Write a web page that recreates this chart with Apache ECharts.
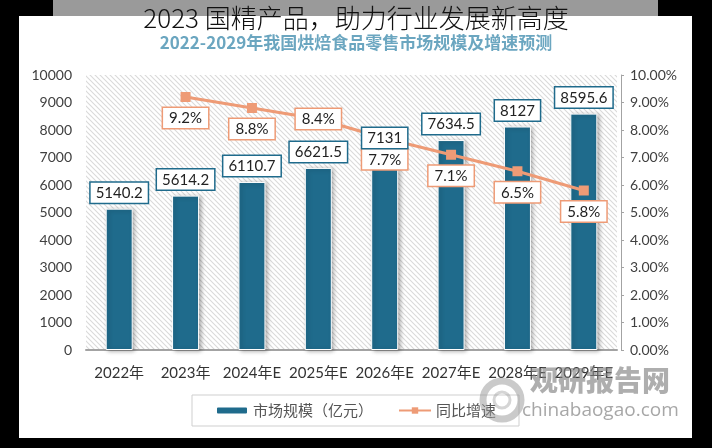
<!DOCTYPE html>
<html><head><meta charset="utf-8">
<script src="https://cdn.jsdelivr.net/npm/echarts@6/dist/echarts.min.js"></script>
<style>html,body{margin:0;padding:0;background:#000;}#c{width:712px;height:448px;}</style>
</head><body><div id="c"></div>
<script>
const categories = ['2022年','2023年','2024年E','2025年E','2026年E','2027年E','2028年E','2029年E'];
const marketSize = [5140.2, 5614.2, 6110.7, 6621.5, 7131, 7634.5, 8127, 8595.6];
const growthRate = [null, 9.2, 8.8, 8.4, 7.7, 7.1, 6.5, 5.8];
const leftTicks = {min: 0, max: 10000, interval: 1000};
const rightTicks = {min: 0, max: 10, interval: 1};
const titleText = '2023 国精产品，助力行业发展新高度';
const subtitleText = '2022-2029年我国烘焙食品零售市场规模及增速预测';
const legendNames = ['市场规模（亿元）', '同比增速'];

const BAR = '#1f6b8c', ORANGE = '#ee9b76';
const FONT = 'Lato, "Noto Sans CJK SC", sans-serif';
const CJK = '"Noto Sans CJK SC", sans-serif';

// hatch pattern
const pc = document.createElement('canvas');
pc.width = 5; pc.height = 5;
const g = pc.getContext('2d');
g.fillStyle = '#ffffff'; g.fillRect(0,0,5,5);
g.strokeStyle = '#dadada'; g.lineWidth = 1.1;
g.beginPath(); g.moveTo(0,0); g.lineTo(5,5); g.moveTo(-3,2); g.lineTo(3,8); g.moveTo(2,-3); g.lineTo(8,3); g.stroke();

const barLabel = {show: true, position: 'top', distance: 6, fontFamily: FONT, fontSize: 15, color: '#222',
  backgroundColor: '#fff', borderColor: BAR, borderWidth: 1.5, padding: [3, 5, 2, 5]};

const chart = echarts.init(document.getElementById('c'), null, {renderer: 'canvas'});
chart.setOption({
  backgroundColor: '#000',
  animation: false,
  graphic: [
    {type: 'rect', shape: {x: 19, y: 16, width: 673, height: 422}, style: {fill: '#fff'}, z: -10, silent: true},
    {type: 'rect', shape: {x: 53, y: 0, width: 605, height: 16}, style: {fill: '#9a9a9a'}, z: -10, silent: true},
    {type: 'text', left: 'center', top: 34, style: {text: subtitleText, fill: '#4690b0', font: 'bold 17px ' + CJK, opacity: 0.8}, z: 5},
    {type: 'text', left: 'center', top: 5, style: {text: titleText, fill: '#111', font: '300 26px ' + CJK}, z: 6},
    // watermark
    {type: 'circle', shape: {cx: 502, cy: 400, r: 19}, style: {fill: 'none', stroke: 'rgba(150,150,150,0.5)', lineWidth: 7}, z: 20, silent: true},
    {type: 'circle', shape: {cx: 502, cy: 400, r: 8}, style: {fill: 'none', stroke: 'rgba(150,150,150,0.4)', lineWidth: 3}, z: 20, silent: true},
    {type: 'text', left: 530, top: 366, style: {text: '观研报告网', fill: 'rgba(130,130,130,0.65)', font: '900 28px ' + CJK}, z: 20, silent: true},
    {type: 'text', left: 522, top: 401, style: {text: 'chinabaogao.com', fill: 'rgba(130,130,130,0.7)', font: '19px "Open Sans", sans-serif'}, z: 20, silent: true}
  ],
  grid: {left: 86, right: 95, top: 75, bottom: 98, show: true, borderWidth: 0,
    backgroundColor: {image: pc, repeat: 'repeat'}},
  legend: {
    left: 192, top: 395, width: 326,
    data: legendNames,
    backgroundColor: '#fff', borderColor: '#cfcfcf', borderWidth: 1,
    padding: [8, 23], itemGap: 25, itemWidth: 32, itemHeight: 8,
    textStyle: {fontFamily: CJK, fontSize: 15, color: '#555'}
  },
  xAxis: {
    type: 'category', data: categories,
    axisLine: {lineStyle: {color: '#a3a3a3', width: 2}},
    axisTick: {show: false},
    axisLabel: {fontFamily: FONT, fontSize: 15, color: '#333', margin: 16, interval: 0}
  },
  yAxis: [
    {type: 'value', min: leftTicks.min, max: leftTicks.max, interval: leftTicks.interval,
      axisLine: {show: false}, axisTick: {show: false}, splitLine: {show: false},
      axisLabel: {fontFamily: FONT, fontSize: 14, color: '#404040', margin: 14, formatter: v => String(v)}},
    {type: 'value', min: rightTicks.min, max: rightTicks.max, interval: rightTicks.interval, position: 'right',
      axisLine: {show: true, lineStyle: {color: '#a3a3a3', width: 1}},
      axisTick: {show: true, length: 3, lineStyle: {color: '#a3a3a3'}},
      splitLine: {show: false}, offset: 4,
      axisLabel: {fontFamily: FONT, fontSize: 14, color: '#404040', margin: 9,
        formatter: v => v.toFixed(2) + '%'}}
  ],
  series: [
    {name: legendNames[0], type: 'bar', data: marketSize, barWidth: 27, z: 2,
      itemStyle: {color: BAR, borderColor: '#fff', borderWidth: 1,
        shadowColor: 'rgba(0,0,0,0.3)', shadowBlur: 4, shadowOffsetX: 2, shadowOffsetY: 1}},
    {name: legendNames[1], type: 'line', yAxisIndex: 1, z: 3,
      data: growthRate.map((v, i) => i === 3 ? {value: v, label: {position: 'inside'}} : v),
      symbol: 'rect', symbolSize: 10,
      lineStyle: {color: ORANGE, width: 3}, itemStyle: {color: ORANGE},
      label: {show: true, position: 'bottom', distance: 6, fontFamily: FONT, fontSize: 15, color: '#222',
        formatter: p => p.value + '%',
        backgroundColor: '#fff', borderColor: ORANGE, borderWidth: 1.5, padding: [3, 6, 2, 6]}},
    {name: 'barLabels', type: 'bar', data: marketSize, barWidth: 27, barGap: '-100%', z: 5,
      itemStyle: {color: 'rgba(0,0,0,0)'}, label: barLabel, silent: true, tooltip: {show: false}}
  ]
});
</script></body></html>
